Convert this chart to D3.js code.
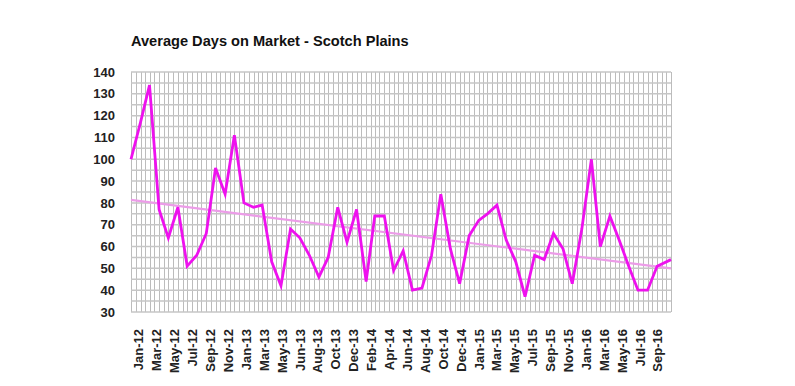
<!DOCTYPE html>
<html>
<head>
<meta charset="utf-8">
<script src="https://cdn.jsdelivr.net/npm/d3@7"></script>
<style>
  body { margin: 0; background: #fff; }
  #chart text { font-family: Arial, "Liberation Sans", sans-serif; }
</style>
</head>
<body>
<div id="chart"></div>
<script>
// Chart data
const monthDates = [
  "2012-01-01", "2012-02-01", "2012-03-01", "2012-04-01", "2012-05-01", "2012-06-01",
  "2012-07-01", "2012-08-01", "2012-09-01", "2012-10-01", "2012-11-01", "2012-12-01",
  "2013-01-01", "2013-02-01", "2013-03-01", "2013-04-01", "2013-05-01", "2013-06-01",
  "2013-07-01", "2013-08-01", "2013-09-01", "2013-10-01", "2013-11-01", "2013-12-01",
  "2014-01-01", "2014-02-01", "2014-03-01", "2014-04-01", "2014-05-01", "2014-06-01",
  "2014-07-01", "2014-08-01", "2014-09-01", "2014-10-01", "2014-11-01", "2014-12-01",
  "2015-01-01", "2015-02-01", "2015-03-01", "2015-04-01", "2015-05-01", "2015-06-01",
  "2015-07-01", "2015-08-01", "2015-09-01", "2015-10-01", "2015-11-01", "2015-12-01",
  "2016-01-01", "2016-02-01", "2016-03-01", "2016-04-01", "2016-05-01", "2016-06-01",
  "2016-07-01", "2016-08-01", "2016-09-01", "2016-10-16"
];

const avgDays = [
  100, 117, 134, 77, 64, 78, 51, 56, 66, 96, 84, 111,
  80, 78, 79, 53, 42, 68, 64, 56, 46, 55, 78, 62,
  77, 44, 74, 74, 49, 58, 40, 41, 56, 84, 59, 43,
  65, 72, 75, 79, 63, 53, 37, 56, 54, 66, 59, 43,
  68, 100, 60, 74, 63, 51, 40, 40, 51, 54
];

const tickLabels = [
  "Jan-12", "Mar-12", "May-12", "Jul-12", "Sep-12", "Nov-12",
  "Jan-13", "Mar-13", "May-13", "Jun-13", "Aug-13", "Oct-13",
  "Dec-13", "Feb-14", "Apr-14", "Jun-14", "Aug-14", "Oct-14",
  "Dec-14", "Jan-15", "Mar-15", "May-15", "Jul-15", "Sep-15",
  "Nov-15", "Jan-16", "Mar-16", "May-16", "Jul-16", "Sep-16"
];

const yTicks = [30, 40, 50, 60, 70, 80, 90, 100, 110, 120, 130, 140];

const chartTitle = "Average Days on Market - Scotch Plains";

function drawChart() {
  const width = 795;
  const height = 386;
  const margin = { top: 72, right: 124, bottom: 74, left: 131 };
  const DAY = 24 * 3600 * 1000;

  const data = monthDates.map((d, i) => ({
    date: new Date(d + "T00:00:00Z"),
    value: avgDays[i],
  }));

  const svg = d3
    .select("#chart")
    .append("svg")
    .attr("width", width)
    .attr("height", height);

  const x = d3
    .scaleUtc()
    .domain(d3.extent(data, (d) => d.date))
    .range([margin.left, width - margin.right]);

  const y = d3
    .scaleLinear()
    .domain([30, 140])
    .range([height - margin.bottom, margin.top]);

  // Excel date axis: labels every 58 days, first one a few days into Jan
  const tickStart = +x.domain()[0] + 24 * DAY;
  const tickDates = tickLabels.map((_, k) => new Date(tickStart + k * 58 * DAY));

  // vertical minor grid (1st and 16th of every month)
  const gridDates = [];
  d3.utcMonths(x.domain()[0], x.domain()[1]).forEach((m) => {
    gridDates.push(m, new Date(+m + 15 * DAY));
  });
  gridDates.push(x.domain()[1]);

  const grid = svg.append("g").attr("class", "grid");

  grid
    .selectAll("line.v")
    .data(gridDates.filter((d) => d <= x.domain()[1]))
    .enter()
    .append("line")
    .attr("class", "v")
    .attr("x1", (d) => Math.round(x(d)) + 0.5)
    .attr("x2", (d) => Math.round(x(d)) + 0.5)
    .attr("y1", y(140))
    .attr("y2", y(30))
    .attr("stroke", "#bcbcbc")
    .attr("stroke-width", 1);

  grid
    .selectAll("line.h")
    .data(d3.range(30, 141, 5))
    .enter()
    .append("line")
    .attr("class", "h")
    .attr("x1", x.range()[0])
    .attr("x2", x.range()[1])
    .attr("y1", (d) => y(d))
    .attr("y2", (d) => y(d))
    .attr("stroke", "#c6c6c6")
    .attr("stroke-width", 1.5);

  // y axis labels
  const yAxis = d3.axisLeft(y).tickValues(yTicks).tickSize(0).tickPadding(16);
  const yG = svg
    .append("g")
    .attr("transform", `translate(${margin.left},0)`)
    .call(yAxis);
  yG.select(".domain").remove();
  yG.selectAll("text")
    .attr("font-size", 13)
    .attr("font-weight", "bold")
    .attr("fill", "#222");

  // x axis labels, rotated
  const xAxis = d3
    .axisBottom(x)
    .tickValues(tickDates)
    .tickFormat((d, i) => tickLabels[i])
    .tickSize(0);
  const xG = svg
    .append("g")
    .attr("transform", `translate(0,${height - margin.bottom})`)
    .call(xAxis);
  xG.select(".domain").remove();
  xG.selectAll("text")
    .attr("font-size", 13)
    .attr("font-weight", "bold")
    .attr("fill", "#222")
    .attr("text-anchor", "end")
    .attr("transform", "rotate(-90)")
    .attr("x", -17)
    .attr("y", 0)
    .attr("dy", "0.35em");

  // linear trendline (least squares on the dates, like Excel)
  const xs = data.map((d) => +d.date);
  const ys = data.map((d) => d.value);
  const mx = d3.mean(xs);
  const my = d3.mean(ys);
  const slope =
    d3.sum(xs, (v, i) => (v - mx) * (ys[i] - my)) /
    d3.sum(xs, (v) => (v - mx) * (v - mx));
  const trend = x.domain().map((d) => ({
    date: d,
    value: my + slope * (+d - mx),
  }));

  const line = d3
    .line()
    .x((d) => x(d.date))
    .y((d) => y(d.value));

  svg
    .append("path")
    .datum(trend)
    .attr("d", line)
    .attr("fill", "none")
    .attr("stroke", "#ec9ce8")
    .attr("stroke-width", 2.2);

  svg
    .append("path")
    .datum(data)
    .attr("d", line)
    .attr("fill", "none")
    .attr("stroke", "#ee11ee")
    .attr("stroke-width", 2.8)
    .attr("stroke-linejoin", "miter");

  svg
    .append("text")
    .attr("x", 131)
    .attr("y", 46)
    .attr("font-size", 14.6)
    .attr("font-weight", "bold")
    .attr("fill", "#111")
    .text(chartTitle);
}

drawChart();
</script>
</body>
</html>
